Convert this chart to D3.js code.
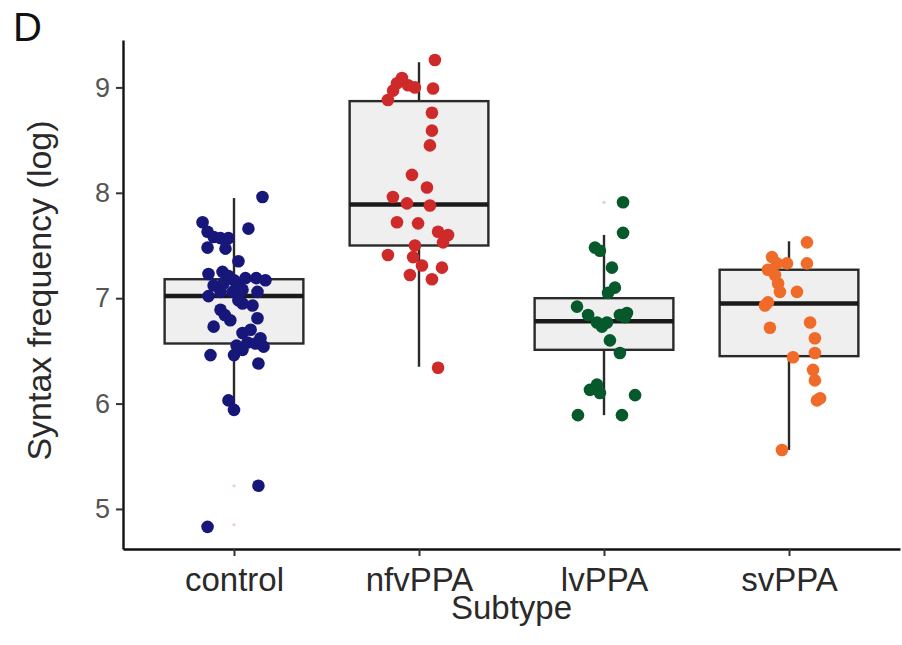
<!DOCTYPE html>
<html>
<head>
<meta charset="utf-8">
<script src="https://cdn.jsdelivr.net/npm/d3@7"></script>
<style>
  body { margin: 0; background: #fff; }
  text { font-family: "Liberation Sans", Arial, sans-serif; }
</style>
</head>
<body>
<div id="chart"></div>
<script>
// categories and colours
var subtypes = ["control", "nfvPPA", "lvPPA", "svPPA"];
var dotColors = ["#17177a", "#cf2a2a", "#06592b", "#f06a2a"];
var yTicks = [5, 6, 7, 8, 9];

// box stats: [whiskerLow, q1, median, q3, whiskerHigh]
var boxStats = [
  [5.92, 6.57, 7.02, 7.18, 7.95],
  [6.35, 7.50, 7.89, 8.87, 9.24],
  [5.89, 6.51, 6.78, 7.00, 7.60],
  [5.56, 6.45, 6.95, 7.27, 7.54]
];

// outliers that ggplot draws at box centre (nearly invisible)
var outlierGroup = [0, 0, 2];
var outlierValue = [5.22, 4.85, 7.91];

// observed points (value) and horizontal jitter (in category units)
var controlValues = [7.96, 7.72, 7.66, 7.63, 7.58, 7.57, 7.57, 7.48, 7.47, 7.35,
  7.23, 7.25, 7.21, 7.17, 7.19, 7.19, 7.17, 7.12, 7.14, 7.12,
  7.02, 7.06, 7.06, 7.08, 7.06, 6.95, 6.89, 6.84, 6.73, 6.79,
  6.81, 6.67, 6.70, 6.62, 6.58, 6.57, 6.54, 6.46, 6.46, 6.51,
  6.38, 6.55, 6.98, 6.93, 6.03, 5.94, 5.22, 4.83];
var controlJitter = [0.154, -0.17, 0.078, -0.143, -0.11, -0.073, -0.03, -0.143, -0.046, 0.024,
  -0.138, -0.062, -0.03, 0.0, 0.062, 0.12, 0.17, -0.11, -0.057, 0.02,
  -0.138, -0.073, -0.008, 0.046, 0.127, 0.046, -0.073, -0.05, -0.11, -0.02,
  0.127, 0.046, 0.09, 0.143, 0.073, 0.116, 0.16, -0.127, 0.0, 0.046,
  0.132, 0.014, 0.024, 0.10, -0.03, 0.0, 0.132, -0.143];

var nfvValues = [9.26, 9.09, 9.04, 8.97, 8.88, 9.02, 9.00, 8.99, 8.76, 8.59,
  8.45, 8.17, 8.05, 7.96, 7.90, 7.88, 7.72, 7.71, 7.63, 7.60,
  7.53, 7.50, 7.41, 7.39, 7.31, 7.29, 7.22, 7.18, 6.34];
var nfvJitter = [0.086, -0.092, -0.119, -0.14, -0.168, -0.059, -0.022, 0.076, 0.070, 0.070,
  0.059, -0.038, 0.043, -0.141, -0.065, 0.059, -0.119, -0.005, 0.103, 0.157,
  0.130, -0.022, -0.168, -0.032, 0.016, 0.124, -0.049, 0.070, 0.103];

var lvValues = [7.91, 7.62, 7.48, 7.45, 7.29, 7.10, 7.05, 6.92, 6.84, 6.77,
  6.73, 6.77, 6.84, 6.82, 6.86, 6.60, 6.48, 6.18, 6.13, 6.10,
  6.08, 5.89, 5.89];
var lvJitter = [0.103, 0.103, -0.049, -0.022, 0.043, 0.059, 0.022, -0.146, -0.086, -0.038,
  -0.011, 0.016, 0.086, 0.113, 0.124, 0.032, 0.086, -0.038, -0.076, -0.022,
  0.168, -0.141, 0.097];

var svValues = [7.53, 7.39, 7.33, 7.33, 7.33, 7.27, 7.22, 7.14, 7.06, 7.06,
  6.96, 6.93, 6.77, 6.72, 6.62, 6.44, 6.48, 6.32, 6.22, 6.03,
  6.05, 5.56];
var svJitter = [0.097, -0.092, -0.065, -0.011, 0.097, -0.114, -0.076, -0.059, 0.043, -0.049,
  -0.114, -0.130, 0.114, -0.103, 0.140, 0.022, 0.140, 0.130, 0.140, 0.151,
  0.168, -0.038];

var groupValues = [controlValues, nfvValues, lvValues, svValues];
var groupJitter = [controlJitter, nfvJitter, lvJitter, svJitter];

var W = 902, H = 645;
var margin = {top: 40, right: 2, bottom: 96, left: 123};

var svg = d3.select("#chart").append("svg")
  .attr("width", W).attr("height", H);

var x = d3.scalePoint()
  .domain(subtypes)
  .range([margin.left, W - margin.right])
  .padding(0.6);
var step = x.step();
var jit = d3.scaleLinear().domain([-0.5, 0.5]).range([-step / 2, step / 2]);

var y = d3.scaleLinear()
  .domain([4.62, 9.45])
  .range([H - margin.bottom, margin.top]);

var boxW = step * 0.75;

// whiskers + boxes
var boxes = svg.append("g").selectAll("g.box")
  .data(subtypes)
  .enter().append("g");

boxes.append("line")
  .attr("x1", function(d) { return x(d); })
  .attr("x2", function(d) { return x(d); })
  .attr("y1", function(d, i) { return y(boxStats[i][0]); })
  .attr("y2", function(d, i) { return y(boxStats[i][4]); })
  .attr("stroke", "#2a2a2a").attr("stroke-width", 2.4);

boxes.append("rect")
  .attr("x", function(d) { return x(d) - boxW / 2; })
  .attr("width", boxW)
  .attr("y", function(d, i) { return y(boxStats[i][3]); })
  .attr("height", function(d, i) { return y(boxStats[i][1]) - y(boxStats[i][3]); })
  .attr("fill", "#efefef").attr("stroke", "#2a2a2a").attr("stroke-width", 2.4);

boxes.append("line")
  .attr("x1", function(d) { return x(d) - boxW / 2; })
  .attr("x2", function(d) { return x(d) + boxW / 2; })
  .attr("y1", function(d, i) { return y(boxStats[i][2]); })
  .attr("y2", function(d, i) { return y(boxStats[i][2]); })
  .attr("stroke", "#1a1a1a").attr("stroke-width", 4.5);

// faint outlier marks
svg.append("g").selectAll("circle")
  .data(outlierValue)
  .enter().append("circle")
    .attr("cx", function(d, i) { return x(subtypes[outlierGroup[i]]); })
    .attr("cy", function(d) { return y(d); })
    .attr("r", 1.6)
    .attr("fill", "#e8b8a0").attr("opacity", 0.7);

// jittered points
subtypes.forEach(function(s, gi) {
  svg.append("g").selectAll("circle")
    .data(groupValues[gi])
    .enter().append("circle")
      .attr("cx", function(d, i) { return x(s) + jit(groupJitter[gi][i]); })
      .attr("cy", function(d) { return y(d); })
      .attr("r", 6.3)
      .style("fill", dotColors[gi]);
});

// axes
var yAxis = svg.append("g")
  .attr("transform", "translate(" + margin.left + ",0)")
  .call(d3.axisLeft(y).tickValues(yTicks).tickSize(7).tickSizeOuter(0).tickPadding(6).tickFormat(d3.format("d")));
yAxis.select(".domain").attr("stroke", "#111").attr("stroke-width", 2.4);
yAxis.selectAll(".tick line").attr("stroke", "#333").attr("stroke-width", 2);
yAxis.selectAll(".tick text").attr("fill", "#555").style("font-size", "27px");

var xAxis = svg.append("g")
  .attr("transform", "translate(0," + (H - margin.bottom) + ")")
  .call(d3.axisBottom(x).tickSize(7).tickSizeOuter(0).tickPadding(12));
xAxis.select(".domain").attr("stroke", "#111").attr("stroke-width", 2.4);
xAxis.selectAll(".tick line").attr("stroke", "#333").attr("stroke-width", 2);
xAxis.selectAll(".tick text").attr("fill", "#2a2a2a").style("font-size", "33px");

// titles
svg.append("text")
  .attr("x", (margin.left + W - margin.right) / 2)
  .attr("y", 619)
  .attr("text-anchor", "middle")
  .attr("fill", "#2a2a2a")
  .style("font-size", "33px")
  .text("Subtype");

svg.append("text")
  .attr("transform", "translate(51," + ((margin.top + H - margin.bottom) / 2 - 4) + ") rotate(-90)")
  .attr("text-anchor", "middle")
  .attr("fill", "#2a2a2a")
  .style("font-size", "34px")
  .text("Syntax frequency (log)");

svg.append("text")
  .attr("x", 13).attr("y", 41)
  .attr("fill", "#111")
  .style("font-size", "40px")
  .text("D");
</script>
</body>
</html>
